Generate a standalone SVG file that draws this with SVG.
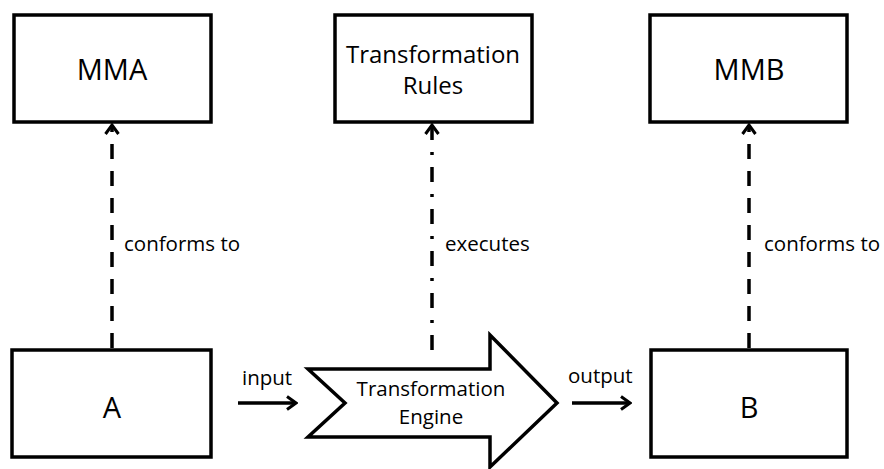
<svg xmlns="http://www.w3.org/2000/svg" width="884" height="469" viewBox="0 0 884 469">
<defs>
<style>
.box{fill:#fff;stroke:#000;stroke-width:3.5}
.big{font-family:"Open Sans","Liberation Sans",sans-serif;font-size:29px;fill:#000;text-anchor:middle}
.mid{font-family:"Open Sans","Liberation Sans",sans-serif;font-size:24px;fill:#000;text-anchor:middle}
.lbl{font-family:"Open Sans","Liberation Sans",sans-serif;font-size:20.5px;fill:#000}
.ln{fill:none;stroke:#000;stroke-width:3.5}
</style>
<marker id="ah" markerUnits="userSpaceOnUse" viewBox="0 0 16 16" refX="14" refY="8" markerWidth="16" markerHeight="16" orient="auto">
<path d="M5,1.5 L14,8 L5,14.5" fill="none" stroke="#000" stroke-width="3"/>
</marker>
</defs>
<g id="MMA"><rect class="box" x="14" y="15" width="197" height="107"/><text class="big" x="112" y="80">MMA</text></g>
<g id="Rules"><rect class="box" x="335" y="15" width="197" height="107"/><text class="mid" x="433" y="63">Transformation</text><text class="mid" x="433" y="94">Rules</text></g>
<g id="MMB"><rect class="box" x="650" y="15" width="197" height="107"/><text class="big" x="749" y="80">MMB</text></g>
<g id="A"><rect class="box" x="12" y="350" width="199" height="107"/><text class="big" x="112" y="418">A</text></g>
<g id="B"><rect class="box" x="651" y="350" width="196" height="107"/><text class="big" x="749" y="418">B</text></g>
<g id="Engine"><polygon class="box" points="308,369 490,369 490,335 557,403 490,467 490,437 308,437 345,403"/><text class="lbl" x="431" y="396" text-anchor="middle" font-size="22">Transformation</text><text class="lbl" x="431" y="424" text-anchor="middle" font-size="22">Engine</text></g>
<g id="connectors">
<line class="ln" x1="112" y1="348" x2="112" y2="125" stroke-dasharray="15 12" marker-end="url(#ah)"/>
<line class="ln" x1="432" y1="350" x2="432" y2="125" stroke-dasharray="15 12 3 12" marker-end="url(#ah)"/>
<line class="ln" x1="749" y1="348" x2="749" y2="125" stroke-dasharray="15 12" marker-end="url(#ah)"/>
<line class="ln" x1="238" y1="403" x2="296" y2="403" marker-end="url(#ah)"/>
<line class="ln" x1="572" y1="403" x2="630" y2="403" marker-end="url(#ah)"/>
<text class="lbl" x="124" y="251">conforms to</text>
<text class="lbl" x="445" y="251">executes</text>
<text class="lbl" x="764" y="251">conforms to</text>
<text class="lbl" x="242" y="385">input</text>
<text class="lbl" x="568" y="383">output</text>
</g>
</svg>
